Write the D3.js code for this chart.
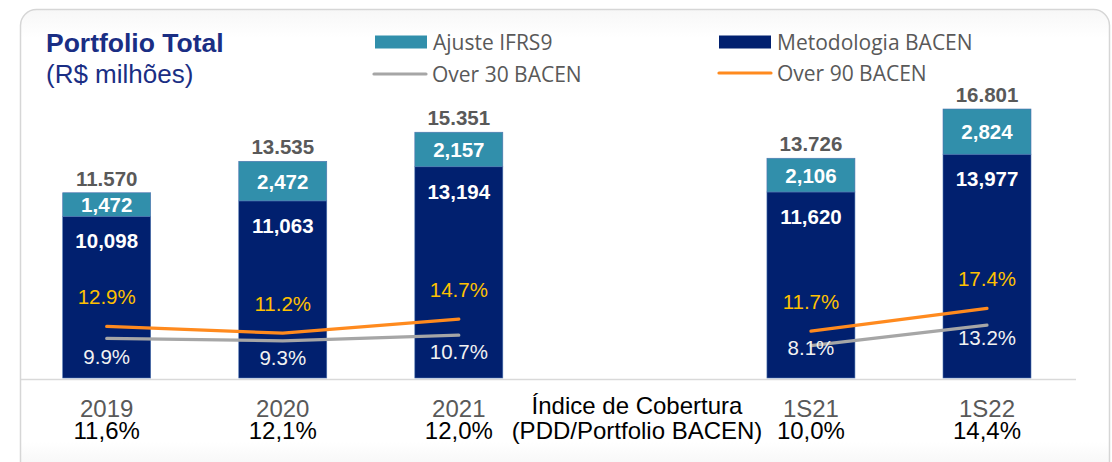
<!DOCTYPE html>
<html><head><meta charset="utf-8">
<script src="https://cdn.jsdelivr.net/npm/d3@7"></script>
<style>html,body{margin:0;padding:0;background:#fff;}svg{display:block;}</style>
</head><body>
<script>
// ---- data ----
const categories = ["2019", "2020", "2021", "1S21", "1S22"];
const metodologiaBACEN = [10098, 11063, 13194, 11620, 13977];
const ajusteIFRS9 = [1472, 2472, 2157, 2106, 2824];
const totalLabels = ["11.570", "13.535", "15.351", "13.726", "16.801"];
const over90 = [12.9, 11.2, 14.7, 11.7, 17.4];
const over30 = [9.9, 9.3, 10.7, 8.1, 13.2];
const cobertura = ["11,6%", "12,1%", "12,0%", "10,0%", "14,4%"];
const lineGroups = [["2019", "2020", "2021"], ["1S21", "1S22"]];

// ---- layout (not data) ----
const W = 1112, H = 462;
const slots = ["2019", "2020", "2021", "gap", "1S21", "1S22"];
const grayDy = [18, 17, 16, 1.5, 12];
const C = {teal: "#318FAB", navy: "#01206F", orange: "#FF8A1E", gray: "#A6A6A6",
           gold: "#FFC000", label: "#595959", title: "#1A2E84"};

const svg = d3.select("body").append("svg").attr("width", W).attr("height", H);
const defs = svg.append("defs");
const g1 = defs.append("linearGradient").attr("id", "cardg").attr("x1", 0).attr("y1", 0).attr("x2", 0).attr("y2", 1);
g1.append("stop").attr("offset", 0).attr("stop-color", "#f7f7f7");
g1.append("stop").attr("offset", 0.06).attr("stop-color", "#ffffff");
g1.append("stop").attr("offset", 0.92).attr("stop-color", "#ffffff");
g1.append("stop").attr("offset", 1).attr("stop-color", "#f2f2f2");

svg.append("rect").attr("x", 20.5).attr("y", 9.5).attr("width", 1089).attr("height", 470)
  .attr("rx", 16).attr("fill", "url(#cardg)").attr("stroke", "#d6d6d6").attr("stroke-width", 1.5);

const x = d3.scalePoint().domain(slots).range([106.7, 987]);
const bw = 88;
const y = d3.scaleLinear().domain([0, 16801]).range([378, 109]);
const yp = d3.scaleLinear().domain([0, 10]).range([378, 338]);
const cx = c => x(c);

// baseline separator
svg.append("line").attr("x1", 21).attr("x2", 1076).attr("y1", 379.5).attr("y2", 379.5)
  .attr("stroke", "#d9d9d9").attr("stroke-width", 1.5);

// bars
const stack = d3.stack().keys(["m", "a"])(categories.map((c, i) => ({c, m: metodologiaBACEN[i], a: ajusteIFRS9[i]})));
const colors = {m: C.navy, a: C.teal};
stack.forEach(s => {
  svg.append("g").selectAll("rect").data(s).join("rect")
    .attr("x", d => cx(d.data.c) - bw / 2).attr("width", bw)
    .attr("y", d => y(d[1])).attr("height", d => y(d[0]) - y(d[1]))
    .attr("fill", colors[s.key]).attr("stroke", "#4f74b0").attr("stroke-width", 0.6);
});

const font = "'Liberation Sans', Arial, sans-serif";
const vfs = 20.5;
// segment labels
svg.append("g").selectAll("text").data(categories).join("text")
  .attr("x", c => cx(c)).attr("y", (c, i) => y(metodologiaBACEN[i] + ajusteIFRS9[i] / 2) + 7.5)
  .attr("text-anchor", "middle").attr("font-family", font).attr("font-weight", "bold")
  .attr("font-size", vfs).attr("fill", "#fff")
  .text((c, i) => d3.format(",")(ajusteIFRS9[i]));
svg.append("g").selectAll("text").data(categories).join("text")
  .attr("x", c => cx(c)).attr("y", (c, i) => y(metodologiaBACEN[i]) + 32)
  .attr("text-anchor", "middle").attr("font-family", font).attr("font-weight", "bold")
  .attr("font-size", vfs).attr("fill", "#fff")
  .text((c, i) => d3.format(",")(metodologiaBACEN[i]));
// totals
svg.append("g").selectAll("text").data(categories).join("text")
  .attr("x", c => cx(c)).attr("y", (c, i) => y(metodologiaBACEN[i] + ajusteIFRS9[i]) - 7)
  .attr("text-anchor", "middle").attr("font-family", font).attr("font-weight", "bold")
  .attr("font-size", vfs).attr("fill", C.label)
  .text((c, i) => totalLabels[i]);

// lines
const idx = c => categories.indexOf(c);
const lineGen = arr => d3.line().x(c => cx(c)).y(c => yp(arr[idx(c)]));
lineGroups.forEach(gr => {
  svg.append("path").attr("d", lineGen(over30)(gr)).attr("fill", "none")
    .attr("stroke", C.gray).attr("stroke-width", 3.2).attr("stroke-linecap", "round");
});
lineGroups.forEach(gr => {
  svg.append("path").attr("d", lineGen(over90)(gr)).attr("fill", "none")
    .attr("stroke", C.orange).attr("stroke-width", 3.2).attr("stroke-linecap", "round");
});
// line labels
const pfs = 20.5;
svg.append("g").selectAll("text").data(categories).join("text")
  .attr("x", c => cx(c)).attr("y", (c, i) => yp(over90[i]) - 22.5)
  .attr("text-anchor", "middle").attr("font-family", font).attr("font-size", pfs).attr("fill", C.gold)
  .text((c, i) => d3.format(".1f")(over90[i]) + "%");
svg.append("g").selectAll("text").data(categories).join("text")
  .attr("x", c => cx(c)).attr("y", (c, i) => yp(over30[i]) + grayDy[i] + 7.5)
  .attr("text-anchor", "middle").attr("font-family", font).attr("font-size", pfs).attr("fill", "#f2f2f2")
  .text((c, i) => d3.format(".1f")(over30[i]) + "%");

// x axis labels
const bfs = 24;
svg.append("g").selectAll("text").data(categories).join("text")
  .attr("x", c => cx(c)).attr("y", 417)
  .attr("text-anchor", "middle").attr("font-family", font).attr("font-size", bfs).attr("fill", C.label)
  .text(c => c);
svg.append("g").selectAll("text").data(categories).join("text")
  .attr("x", c => cx(c)).attr("y", 439)
  .attr("text-anchor", "middle").attr("font-family", font).attr("font-size", bfs).attr("fill", "#000")
  .text((c, i) => cobertura[i]);
svg.append("text").attr("x", 637).attr("y", 414).attr("text-anchor", "middle")
  .attr("font-family", font).attr("font-size", bfs).attr("fill", "#000").text("Índice de Cobertura");
svg.append("text").attr("x", 637).attr("y", 439).attr("text-anchor", "middle")
  .attr("font-family", font).attr("font-size", bfs).attr("fill", "#000").text("(PDD/Portfolio BACEN)");

// title
svg.append("text").attr("x", 46).attr("y", 52).attr("font-family", font).attr("font-weight", "bold")
  .attr("font-size", 26.5).attr("fill", C.title).text("Portfolio Total");
svg.append("text").attr("x", 46).attr("y", 83).attr("font-family", font)
  .attr("font-size", 26).attr("fill", C.title).text("(R$ milhões)");

// legend
const lfont = "'Open Sans', 'Noto Sans', sans-serif";
const legend = [
  {name: "Ajuste IFRS9", type: "rect", color: C.teal, lx: 375, ly: 42},
  {name: "Metodologia BACEN", type: "rect", color: C.navy, lx: 719, ly: 42},
  {name: "Over 30 BACEN", type: "line", color: C.gray, lx: 374, ly: 74},
  {name: "Over 90 BACEN", type: "line", color: C.orange, lx: 719, ly: 73}
];
const lg = svg.append("g").selectAll("g").data(legend).join("g");
lg.filter(d => d.type === "rect").append("rect")
  .attr("x", d => d.lx).attr("y", d => d.ly - 6.5).attr("width", 52).attr("height", 13).attr("fill", d => d.color);
lg.filter(d => d.type === "line").append("line")
  .attr("x1", d => d.lx).attr("x2", d => d.lx + 52).attr("y1", d => d.ly).attr("y2", d => d.ly)
  .attr("stroke", d => d.color).attr("stroke-width", 3.2).attr("stroke-linecap", "round");
lg.append("text").attr("x", d => d.lx + 58).attr("y", d => d.ly + 7.5)
  .attr("font-family", lfont).attr("font-size", 21).attr("fill", C.label).text(d => d.name);
</script>
</body></html>
